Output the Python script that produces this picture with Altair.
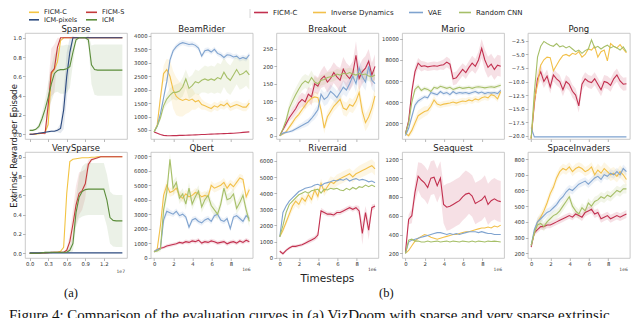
import altair as alt
import pandas as pd

# ---------------- x grids ----------------
RX = [0, 0.33, 0.66, 0.99, 1.32, 1.65, 1.98, 2.31, 2.64, 2.97, 3.3, 3.63, 3.96, 4.29, 4.62, 4.95,
      5.28, 5.61, 5.94, 6.27, 6.6, 6.93, 7.26, 7.59, 7.92, 8.25, 8.58, 8.91, 9.24, 9.57, 9.9]
LX = [0.0, 0.05, 0.1, 0.15, 0.2, 0.25, 0.3, 0.35, 0.4, 0.45, 0.5, 0.55, 0.6, 0.65, 0.7, 0.75,
      0.8, 0.85, 0.9, 0.95, 1.0, 1.05, 1.1, 1.15, 1.2, 1.25, 1.3, 1.35, 1.4, 1.45, 1.5]

LEFT_NAMES = ["FICM-C", "FICM-S", "ICM-pixels", "ICM"]
RIGHT_NAMES = ["FICM-C", "Inverse Dynamics", "VAE", "Random CNN"]
LEFT_COLORS = ["#f3c443", "#c43b3b", "#2c4a7f", "#5c8d3b"]
RIGHT_COLORS = ["#c2304f", "#f2c04a", "#7fa3cf", "#a6bf68"]

# ---------------- VizDoom Sparse ----------------
SP_FICMC = [0.0, 0.0, 0.0, 0.005, 0.01, 0.02, 0.1, 0.62, 0.67, 0.75, 0.97, 1.0, 1.0, 1.0, 1.0, 1.0,
            1.0, 1.0, 1.0, 1.0, 1.0, 1.0, 1.0, 1.0, 1.0, 1.0, 1.0, 1.0, 1.0, 1.0, 1.0]
SP_FICMS = [0.0, 0.0, 0.005, 0.01, 0.01, 0.01, 0.3, 0.64, 0.68, 0.9, 1.0, 1.0, 1.0, 1.0, 1.0, 1.0,
            1.0, 1.0, 1.0, 1.0, 1.0, 1.0, 1.0, 1.0, 1.0, 1.0, 1.0, 1.0, 1.0, 1.0, 1.0]
SP_FICMS_SD = [0, 0, 0, 0, 0, 0.02, 0.2, 0.25, 0.25, 0.1, 0, 0, 0, 0, 0, 0,
               0, 0, 0, 0, 0, 0, 0, 0, 0, 0, 0, 0, 0, 0, 0]
SP_PIX = [0.0, 0.0, 0.005, 0.01, 0.015, 0.02, 0.025, 0.03, 0.03, 0.04, 0.06, 0.25, 0.6, 0.85, 1.0, 1.0,
          1.0, 1.0, 1.0, 1.0, 1.0, 1.0, 1.0, 1.0, 1.0, 1.0, 1.0, 1.0, 1.0, 1.0, 1.0]
SP_PIX_SD = [0, 0, 0, 0, 0, 0.01, 0.01, 0.01, 0.01, 0.02, 0.05, 0.2, 0.25, 0.15, 0.02, 0,
             0, 0, 0, 0, 0, 0, 0, 0, 0, 0, 0, 0, 0, 0, 0]
SP_ICM = [0.04, 0.04, 0.05, 0.08, 0.16, 0.26, 0.38, 0.52, 0.63, 0.66, 0.67, 0.67, 0.68, 0.7, 0.85, 0.98,
          1.0, 1.0, 1.0, 0.98, 0.72, 0.67, 0.665, 0.665, 0.665, 0.665, 0.665, 0.665, 0.665, 0.665, 0.665]
SP_ICM_SD = [0.01, 0.01, 0.01, 0.03, 0.06, 0.1, 0.15, 0.18, 0.2, 0.22, 0.25, 0.25, 0.25, 0.22, 0.12, 0.03,
             0.0, 0.0, 0.0, 0.05, 0.2, 0.26, 0.265, 0.265, 0.265, 0.265, 0.265, 0.265, 0.265, 0.265, 0.265]

# ---------------- VizDoom VerySparse ----------------
VS_FICMC = [0.0, 0.0, 0.0, 0.0, 0.0, 0.0, 0.005, 0.005, 0.01, 0.01, 0.02, 0.06, 0.62, 0.95, 0.975, 0.98,
            0.985, 0.99, 0.99, 0.99, 0.995, 0.995, 1.0, 1.0, 1.0, 1.0, 1.0, 1.0, 1.0, 1.0, 1.0]
VS_FICMS = [0.0, 0.0, 0.0, 0.0, 0.005, 0.005, 0.005, 0.01, 0.01, 0.01, 0.01, 0.01, 0.03, 0.12, 0.3, 0.5,
            0.62, 0.65, 0.72, 0.92, 0.97, 0.98, 0.99, 1.0, 1.0, 1.0, 1.0, 1.0, 1.0, 1.0, 1.0]
VS_FICMS_SD = [0, 0, 0, 0, 0, 0, 0, 0, 0, 0, 0, 0, 0.02, 0.08, 0.15, 0.2,
               0.22, 0.2, 0.15, 0.05, 0.02, 0.01, 0.01, 0, 0, 0, 0, 0, 0, 0, 0]
VS_PIX = [0.003, 0.003, 0.003, 0.003, 0.003, 0.003, 0.003, 0.003, 0.003, 0.003, 0.003, 0.003, 0.003,
          0.003, 0.003, 0.003, 0.003, 0.003, 0.003, 0.003, 0.003, 0.003, 0.003, 0.003, 0.003, 0.003,
          0.003, 0.003, 0.003, 0.003, 0.003]
VS_ICM = [0.0, 0.0, 0.0, 0.0, 0.005, 0.01, 0.01, 0.01, 0.01, 0.01, 0.01, 0.01, 0.01, 0.03, 0.1, 0.42,
          0.58, 0.64, 0.66, 0.665, 0.665, 0.665, 0.665, 0.665, 0.665, 0.55, 0.37, 0.34, 0.335, 0.335, 0.335]
VS_ICM_SD = [0.005, 0.005, 0.005, 0.005, 0.005, 0.005, 0.005, 0.005, 0.005, 0.005, 0.005, 0.005, 0.005,
             0.03, 0.08, 0.15, 0.22, 0.26, 0.27, 0.27, 0.27, 0.27, 0.27, 0.27, 0.27, 0.27, 0.27, 0.27,
             0.27, 0.27, 0.27]

# ---------------- BeamRider ----------------
BR_FICM = [430, 380, 330, 300, 290, 285, 290, 290, 300, 300, 305, 310, 315, 320, 325, 330,
           335, 340, 345, 350, 355, 360, 365, 370, 375, 380, 390, 400, 410, 420, 430]
BR_INV = [430, 700, 1700, 2600, 2750, 2500, 2000, 1750, 1650, 1600, 1650, 1600, 1650, 1550, 1600, 1450,
          1400, 1350, 1300, 1400, 1350, 1450, 1400, 1500, 1350, 1400, 1450, 1400, 1350, 1350, 1500]
BR_VAE = [430, 650, 1100, 1700, 2300, 3100, 3450, 3600, 3700, 3750, 3720, 3680, 3700, 3650, 3550, 3250,
          3450, 3480, 3400, 3500, 3350, 3300, 3200, 3300, 3280, 3220, 3250, 3150, 3200, 3150, 3300]
BR_RND = [430, 650, 950, 1400, 1650, 1800, 1900, 1900, 1950, 2100, 2400, 2050, 2150, 2300, 2250, 2350,
          2400, 2350, 2400, 2350, 2450, 2400, 2650, 2450, 2350, 2550, 2750, 2550, 2600, 2700, 2550]
BR_INV_SD = [0, 50, 200, 300, 400, 600, 700, 700, 650, 600, 550, 450, 400, 300, 250, 200,
             150, 150, 150, 150, 150, 150, 150, 150, 150, 150, 150, 150, 150, 150, 150]
BR_VAE_SD = [0, 50, 100, 100, 150, 150, 100, 100, 100, 100, 100, 100, 100, 100, 100, 100,
             100, 100, 100, 100, 100, 100, 100, 100, 100, 100, 100, 100, 100, 100, 100]
BR_RND_SD = [0, 50, 100, 150, 200, 250, 250, 300, 300, 350, 350, 400, 400, 450, 450, 450,
             500, 500, 500, 500, 550, 550, 550, 550, 550, 550, 550, 550, 550, 550, 550]

# ---------------- Breakout ----------------
BO_FICM = [0, 18, 35, 52, 65, 78, 95, 105, 98, 120, 112, 150, 143, 163, 172, 155,
           165, 182, 170, 160, 192, 175, 165, 180, 232, 165, 185, 195, 215, 175, 200]
BO_INV = [0, 5, 12, 25, 38, 52, 62, 75, 88, 100, 108, 112, 110, 75, 22, 55,
          70, 85, 95, 105, 80, 75, 90, 85, 100, 125, 70, 38, 55, 80, 115]
BO_VAE = [0, 8, 10, 12, 15, 20, 25, 30, 35, 40, 50, 62, 75, 120, 105, 112,
          128, 120, 110, 125, 140, 132, 150, 172, 150, 195, 170, 155, 200, 160, 150]
BO_RND = [0, 20, 45, 80, 100, 118, 135, 150, 158, 152, 168, 155, 150, 160, 162, 168,
          170, 172, 178, 175, 180, 178, 182, 178, 175, 180, 176, 178, 172, 170, 175]
BO_FICM_SD = [0, 5, 10, 10, 15, 15, 20, 20, 20, 20, 25, 25, 25, 25, 30, 30,
              30, 30, 30, 35, 35, 35, 35, 35, 40, 35, 35, 35, 35, 35, 35]
BO_INV_SD = [0, 3, 5, 8, 10, 10, 10, 12, 12, 15, 15, 15, 15, 15, 15, 15,
             15, 15, 15, 15, 20, 20, 20, 20, 20, 25, 25, 25, 25, 25, 25]
BO_VAE_SD = [0, 3, 3, 3, 5, 5, 8, 8, 10, 10, 10, 15, 15, 15, 20, 20,
             20, 20, 20, 20, 20, 20, 20, 20, 25, 25, 25, 25, 25, 25, 25]
BO_RND_SD = [0, 5, 10, 15, 20, 20, 20, 20, 20, 20, 20, 15, 15, 15, 15, 15,
             15, 15, 15, 15, 15, 15, 15, 15, 15, 15, 15, 15, 15, 15, 15]

# ---------------- Mario ----------------
MA_FICM = [1000, 2200, 5000, 6900, 7700, 7400, 7450, 7350, 7400, 7450, 7400, 7500, 7550, 7800, 7600, 6200,
           6300, 6700, 7100, 6800, 7300, 7700, 7400, 8000, 9100, 8000, 7300, 7600, 7100, 7500, 7400]
MA_INV = [1000, 800, 1300, 2000, 2700, 2900, 3100, 3200, 3600, 4200, 3800, 3700, 3800, 3850, 3900, 4000,
          3900, 4000, 4100, 4050, 4200, 4100, 4300, 4200, 4400, 4500, 4400, 4700, 4600, 4300, 5000]
MA_VAE = [800, 1500, 2600, 3700, 4100, 4300, 4500, 4400, 4900, 4800, 4700, 5000, 4800, 4900, 4700, 5000,
          4800, 4900, 4850, 4900, 4800, 4900, 5000, 4850, 4950, 4800, 4900, 4850, 4900, 4800, 5100]
MA_RND = [1000, 2000, 4000, 5200, 5500, 5100, 5300, 5200, 5000, 5400, 5300, 5500, 5400, 5300, 5400, 5200,
          5300, 5400, 5300, 5350, 5400, 5300, 5400, 5450, 5400, 5350, 5400, 5450, 5400, 5500, 5600]
MA_FICM_SD = [100, 300, 600, 500, 500, 500, 400, 400, 400, 400, 400, 400, 500, 500, 500, 600,
              600, 600, 600, 600, 600, 700, 700, 800, 900, 1000, 1000, 1000, 1000, 1000, 1000]
MA_INV_SD = [100, 200, 400, 500, 500, 500, 500, 400, 400, 400, 300, 300, 300, 300, 300, 300,
             300, 300, 300, 300, 300, 300, 300, 300, 300, 300, 300, 300, 300, 300, 300]
MA_VAE_SD = [100, 200, 300, 300, 250, 250, 200, 200, 200, 200, 200, 200, 200, 200, 200, 200,
             200, 200, 200, 200, 200, 200, 200, 200, 200, 200, 200, 200, 200, 200, 200]
MA_RND_SD = [100, 200, 300, 300, 250, 200, 200, 200, 200, 200, 200, 200, 200, 200, 200, 200,
             200, 200, 200, 200, 200, 200, 200, 200, 200, 200, 200, 200, 200, 200, 200]

# ---------------- Pong ----------------
PO_FICM = [-20.5, -14, -9.5, -8.2, -10, -9, -11, -8.8, -9.5, -10, -11.5, -10, -10.5, -11.8, -12.5, -14.5,
           -10.5, -9.5, -10, -10.2, -9.5, -10.5, -11.5, -10, -10.2, -10.7, -9.5, -8.8, -9.9, -10.5, -10.4]
PO_INV = [-20.5, -13.5, -10.5, -7.0, -6.0, -5.5, -5.6, -8.0, -7.0, -6.0, -5.2, -5.0, -5.3, -4.8, -5.0, -4.5,
          -5.5, -5.0, -4.0, -4.2, -3.5, -5.5, -4.5, -4.2, -6.2, -3.0, -3.5, -3.8, -3.2, -4.0, -4.7]
PO_VAE = [-18.5, -20.2, -20.2, -20.2, -20.2, -20.2, -20.2, -20.2, -20.2, -20.2, -20.2, -20.2, -20.2, -20.2,
          -20.2, -20.2, -20.2, -20.2, -20.2, -20.2, -20.2, -20.2, -20.2, -20.2, -20.2, -20.2, -20.2, -20.2,
          -20.2, -20.2, -20.2]
PO_RND = [-20.5, -12, -5.5, -3.5, -2.6, -3.0, -3.3, -3.5, -3.0, -3.6, -3.4, -3.8, -3.5, -4.0, -4.5, -4.2,
          -4.8, -4.3, -4.0, -2.3, -3.8, -3.5, -4.0, -3.6, -3.3, -3.8, -3.5, -3.8, -4.2, -3.6, -4.5]
PO_FICM_SD = [0.2, 1.5, 1.5, 1.5, 1.2, 1.2, 1.2, 1.2, 1.2, 1.2, 1.2, 1.2, 1.2, 1.2, 1.2, 1.2,
              1.2, 1.2, 1.2, 1.2, 1.2, 1.2, 1.2, 1.2, 1.2, 1.2, 1.2, 1.2, 1.2, 1.2, 1.2]

# ---------------- Qbert ----------------
QB_FICM = [400, 550, 650, 700, 800, 850, 900, 950, 1050, 1000, 1100, 1050, 1150, 1100, 1200, 1000,
           1100, 1050, 1150, 1100, 1000, 1050, 1100, 950, 1050, 1100, 1000, 1150, 1050, 1200, 1100]
QB_INV = [400, 600, 2200, 4300, 5000, 4500, 4600, 4800, 4300, 4100, 4400, 4200, 4300, 4500, 4400, 4200,
          4300, 4200, 5000, 4800, 4900, 5000, 5200, 4800, 5100, 4900, 5200, 5500, 5400, 4200, 4700]
QB_VAE = [400, 550, 600, 2600, 3200, 3100, 3000, 3200, 2900, 3000, 2800, 2100, 2600, 2700, 2500, 2400,
          2600, 2700, 2500, 2900, 3000, 2600, 2500, 2700, 2000, 2800, 2900, 2700, 2500, 2900, 2700]
QB_RND = [400, 450, 600, 3300, 4500, 6800, 4800, 5200, 4100, 4400, 3700, 4800, 3700, 4200, 4600, 3500,
          4000, 4300, 3600, 3300, 3000, 3700, 4800, 4000, 4100, 4400, 3400, 3800, 4300, 3300, 2500]
QB_FICM_SD = [50, 80, 100, 100, 120, 120, 120, 120, 120, 120, 150, 150, 150, 150, 150, 150,
              150, 150, 150, 150, 150, 150, 150, 150, 150, 150, 150, 150, 150, 150, 150]
QB_INV_SD = [50, 100, 300, 400, 400, 300, 300, 300, 300, 300, 300, 300, 300, 300, 300, 300,
             300, 300, 300, 300, 300, 300, 300, 300, 300, 300, 300, 300, 300, 300, 300]
QB_VAE_SD = [50, 50, 100, 300, 300, 200, 200, 200, 200, 200, 200, 200, 200, 200, 200, 200,
             200, 200, 200, 200, 200, 200, 200, 200, 200, 200, 200, 200, 200, 200, 200]
QB_RND_SD = [50, 100, 200, 500, 500, 450, 500, 400, 400, 400, 400, 400, 400, 400, 400, 400,
             400, 400, 400, 400, 400, 400, 400, 400, 400, 400, 400, 400, 400, 400, 400]

# ---------------- Riverraid ----------------
RR_FICM = [400, 250, 450, 600, 700, 700, 750, 800, 900, 1000, 1100, 1200, 1400, 2900, 2800, 2700,
           2700, 2650, 2800, 2800, 2900, 3000, 3100, 3000, 3100, 2900, 1500, 2800, 1700, 3100, 3200]
RR_INV = [1300, 1700, 2200, 2700, 3200, 3500, 3300, 3700, 3500, 3900, 3600, 4200, 3800, 4600, 4100, 4400,
          4700, 4600, 4800, 4900, 5000, 5100, 5200, 5000, 5200, 5300, 5400, 5500, 5600, 5700, 5500]
RR_VAE = [1300, 2800, 3200, 3500, 3700, 3900, 4100, 4200, 4300, 4350, 4400, 4500, 4550, 4450, 4600, 4650,
          4700, 4800, 4750, 4850, 4800, 4900, 4750, 4850, 4900, 4800, 4850, 4800, 4700, 4750, 4650]
RR_RND = [1300, 2000, 2800, 3300, 3500, 3700, 3900, 4000, 4100, 4000, 4150, 4200, 4250, 4000, 4250, 4200,
          4300, 4250, 4300, 4200, 4150, 4300, 4200, 4350, 4250, 4400, 4350, 4500, 4400, 4500, 4400]
RR_FICM_SD = [100, 100, 100, 100, 100, 100, 100, 100, 100, 150, 150, 150, 200, 200, 150, 150,
              150, 150, 150, 150, 150, 150, 150, 150, 150, 300, 700, 400, 600, 200, 150]
RR_INV_SD = [100, 150, 200, 250, 300, 300, 300, 300, 300, 300, 300, 300, 300, 300, 300, 300,
             350, 350, 350, 350, 350, 350, 350, 350, 350, 400, 400, 400, 400, 400, 400]

# ---------------- Seaquest ----------------
SQ_FICM = [210, 560, 600, 850, 1020, 980, 950, 900, 1000, 1010, 920, 1000, 720, 690, 700, 720,
           740, 760, 800, 830, 840, 810, 730, 750, 770, 810, 720, 760, 780, 760, 750]
SQ_INV = [200, 230, 280, 330, 360, 380, 400, 390, 370, 360, 350, 360, 370, 380, 390, 400,
          400, 410, 420, 430, 430, 440, 450, 460, 470, 470, 480, 470, 490, 480, 500]
SQ_VAE = [200, 320, 340, 350, 360, 370, 380, 390, 400, 410, 420, 420, 410, 400, 410, 400,
          410, 400, 410, 420, 430, 430, 430, 420, 430, 420, 410, 410, 400, 400, 400]
SQ_RND = [200, 340, 350, 330, 330, 320, 320, 330, 320, 325, 330, 320, 325, 330, 320, 330,
          325, 320, 330, 325, 320, 330, 320, 330, 325, 320, 330, 325, 330, 325, 320]
SQ_FICM_SD = [0, 50, 80, 100, 150, 180, 180, 180, 180, 180, 180, 180, 200, 250, 250, 250,
              250, 250, 250, 250, 220, 220, 220, 220, 220, 220, 220, 220, 220, 220, 220]

# ---------------- SpaceInvaders ----------------
SI_FICM = [240, 330, 350, 370, 370, 380, 380, 390, 400, 410, 420, 430, 440, 430, 450, 440,
           430, 460, 470, 480, 450, 460, 420, 430, 440, 420, 430, 440, 430, 440, 450]
SI_INV = [250, 330, 400, 430, 470, 520, 580, 620, 680, 720, 740, 730, 750, 720, 740, 750,
          740, 720, 730, 750, 700, 730, 710, 740, 720, 700, 710, 690, 720, 700, 670]
SI_VAE = [250, 350, 400, 420, 440, 460, 470, 490, 510, 540, 560, 590, 610, 600, 620, 640,
          650, 660, 640, 660, 680, 690, 670, 700, 690, 710, 700, 720, 700, 740, 720]
SI_RND = [250, 330, 380, 390, 370, 400, 420, 440, 450, 470, 500, 530, 560, 500, 470, 450,
          490, 470, 520, 500, 530, 540, 560, 550, 570, 560, 580, 600, 590, 610, 610]
SI_FICM_SD = [0, 15, 20, 20, 20, 20, 20, 20, 20, 20, 20, 20, 20, 20, 20, 20,
              25, 25, 25, 25, 25, 25, 25, 25, 25, 25, 25, 25, 25, 25, 25]
SI_INV_SD = [0, 20, 30, 30, 30, 30, 30, 30, 30, 30, 30, 30, 30, 30, 30, 30,
             30, 30, 30, 30, 40, 40, 40, 40, 40, 40, 40, 40, 40, 40, 40]
SI_VAE_SD = [0, 20, 25, 25, 25, 25, 25, 25, 25, 25, 25, 25, 25, 25, 25, 25,
             25, 25, 25, 25, 25, 25, 25, 25, 25, 25, 25, 25, 25, 25, 25]
SI_RND_SD = [0, 20, 30, 30, 30, 30, 30, 30, 30, 30, 30, 30, 30, 30, 30, 30,
             30, 30, 30, 30, 30, 30, 30, 30, 30, 30, 30, 30, 30, 30, 30]

# ---------------- axes ----------------
LEFT_XTICKS = [0.0, 0.3, 0.6, 0.9, 1.2]
RIGHT_XTICKS = [0, 2, 4, 6, 8]
UNIT_TICKS = [0.0, 0.2, 0.4, 0.6, 0.8, 1.0]
BR_TICKS = [500, 1000, 1500, 2000, 2500, 3000, 3500, 4000]
BO_TICKS = [0, 50, 100, 150, 200, 250]
MA_TICKS = [2000, 4000, 6000, 8000, 10000]
PO_TICKS = [-20.0, -17.5, -15.0, -12.5, -10.0, -7.5, -5.0, -2.5]
QB_TICKS = [0, 1000, 2000, 3000, 4000, 5000, 6000, 7000]
RR_TICKS = [0, 1000, 2000, 3000, 4000, 5000, 6000]
SQ_TICKS = [200, 400, 600, 800, 1000, 1200]
SI_TICKS = [200, 300, 400, 500, 600, 700, 800]

W, H = 102, 106
FONT = "DejaVu Sans"
ONE = pd.DataFrame({"k": [0]})


def frames(x, names, vals, sds):
    lines, bands = [], []
    for n, v, sd in zip(names, vals, sds):
        for i in range(len(x)):
            lines.append({"x": x[i], "y": v[i], "s": n})
            if sd is not None:
                bands.append({"x": x[i], "lo": v[i] - sd[i], "hi": v[i] + sd[i], "s": n})
    return pd.DataFrame(lines), pd.DataFrame(bands)


def txt(text, x, y, size=7, align="left", angle=0, font=FONT, color="#222", baseline="middle"):
    return alt.Chart(ONE).mark_text(text=text, fontSize=size, align=align, baseline=baseline,
                                    angle=angle, font=font, color=color).encode(
        x=alt.value(x), y=alt.value(y))


def seg(x1, x2, y, color, width=1.6, opacity=1.0):
    return alt.Chart(ONE).mark_rule(color=color, strokeWidth=width, opacity=opacity).encode(
        x=alt.value(x1), x2=alt.value(x2), y=alt.value(y))


def vseg(x, y1, y2, color, width=0.8):
    return alt.Chart(ONE).mark_rule(color=color, strokeWidth=width).encode(
        x=alt.value(x), y=alt.value(y1), y2=alt.value(y2))


def panel(title, x, names, colors, vals, sds, xdom, xticks, xfmt, ydom, yticks, yfmt,
          bottom, extras, band_opacity=0.15):
    ldf, bdf = frames(x, names, vals, sds)
    xs = alt.Scale(domain=xdom, nice=False, zero=False)
    ys = alt.Scale(domain=ydom, nice=False, zero=False)
    common = dict(title=None, grid=False, domain=False, ticks=True, tickSize=2.5,
                  tickColor="#8a8a8a", tickWidth=0.6, labelFontSize=5.3, labelColor="#333",
                  labelFont=FONT, labelPadding=1.2, labelOverlap=False, labelFlush=False)
    xax = alt.Axis(values=xticks, format=xfmt, labels=bottom, **common)
    yax = alt.Axis(values=yticks, format=yfmt, **common)
    col = alt.Color("s:N", scale=alt.Scale(domain=names, range=colors), legend=None)
    layers = []
    if len(bdf):
        layers.append(alt.Chart(bdf).mark_area(opacity=band_opacity, clip=True).encode(
            x=alt.X("x:Q", scale=xs, axis=xax),
            y=alt.Y("lo:Q", scale=ys, axis=yax, stack=None),
            y2="hi:Q", color=col, detail="s:N"))
    layers.append(alt.Chart(ldf).mark_line(strokeWidth=1.1, clip=True).encode(
        x=alt.X("x:Q", scale=xs, axis=xax),
        y=alt.Y("y:Q", scale=ys, axis=yax),
        color=col))
    # panel title drawn as a text mark just above the frame
    layers.append(txt(title, W / 2, -1.5, size=8.5, align="center", baseline="alphabetic"))
    layers += extras
    return alt.layer(*layers).properties(width=W, height=H)


LXD = [-0.075, 1.575]
RXD = [-0.35, 10.25]

# ----- annotation layers -----
sparse_extra = [
    seg(-16, -15, -24, "white", width=0.5, opacity=0.0),   # layout anchor (invisible)
    seg(4, 14, -20.7, LEFT_COLORS[0]), txt("FICM-C", 19, -20.7, size=6.5),
    seg(61, 72, -20.7, LEFT_COLORS[1]), txt("FICM-S", 77, -20.7, size=6.5),
    seg(4, 14, -13.2, LEFT_COLORS[2]), txt("ICM-pixels", 19, -13.2, size=6.5),
    seg(61, 72, -13.2, LEFT_COLORS[3]), txt("ICM", 77, -13.2, size=6.5),
    txt("Extrinsic Reward per Episode", -11, 113, size=8.5, align="center", angle=270),
]
beam_extra = [
    vseg(99.3, -24, -15, "#cccccc"),
    seg(103.3, 117.3, -20.5, RIGHT_COLORS[0]), txt("FICM-C", 122.3, -20.5),
    seg(162.3, 175.3, -20.5, RIGHT_COLORS[1]), txt("Inverse Dynamics", 180.3, -20.5),
    seg(258.3, 272.3, -20.5, RIGHT_COLORS[2]), txt("VAE", 277.3, -20.5),
    seg(308.3, 320.3, -20.5, RIGHT_COLORS[3]), txt("Random CNN", 325.3, -20.5),
]
vs_extra = [
    txt("1e7", W - 2, H + 14, size=4.5, align="right", color="#444"),
    txt("(a)", 46, 141, size=12.5, align="center", font="Liberation Serif", color="#111"),
    txt("Figure 4: Comparison of the evaluation curves in (a) VizDoom with sparse and very sparse extrinsic",
        -16, 168, size=15, align="left", font="Liberation Serif", color="#111",
        baseline="alphabetic"),
]


def e6():
    return txt("1e6", W - 2, H + 12, size=4.5, align="right", color="#444")


rr_extra = [
    e6(),
    txt("Timesteps", 51, 127, size=10.5, align="center"),
    txt("(b)", 110, 141, size=12.5, align="center", font="Liberation Serif", color="#111"),
]

sp = panel("Sparse", LX, LEFT_NAMES, LEFT_COLORS, [SP_FICMC, SP_FICMS, SP_PIX, SP_ICM],
           [None, SP_FICMS_SD, SP_PIX_SD, SP_ICM_SD], LXD, LEFT_XTICKS, ".1f",
           [-0.05, 1.05], UNIT_TICKS, ".1f", False, sparse_extra, band_opacity=0.12)
vs = panel("VerySparse", LX, LEFT_NAMES, LEFT_COLORS, [VS_FICMC, VS_FICMS, VS_PIX, VS_ICM],
           [None, VS_FICMS_SD, None, VS_ICM_SD], LXD, LEFT_XTICKS, ".1f",
           [-0.05, 1.05], UNIT_TICKS, ".1f", True, vs_extra, band_opacity=0.12)
br = panel("BeamRider", RX, RIGHT_NAMES, RIGHT_COLORS, [BR_FICM, BR_INV, BR_VAE, BR_RND],
           [None, BR_INV_SD, BR_VAE_SD, BR_RND_SD], RXD, RIGHT_XTICKS, "d",
           [165, 4110], BR_TICKS, "d", False, beam_extra)
bo = panel("Breakout", RX, RIGHT_NAMES, RIGHT_COLORS, [BO_FICM, BO_INV, BO_VAE, BO_RND],
           [BO_FICM_SD, BO_INV_SD, BO_VAE_SD, BO_RND_SD], RXD, RIGHT_XTICKS, "d",
           [-9, 296], BO_TICKS, "d", False, [])
ma = panel("Mario", RX, RIGHT_NAMES, RIGHT_COLORS, [MA_FICM, MA_INV, MA_VAE, MA_RND],
           [MA_FICM_SD, MA_INV_SD, MA_VAE_SD, MA_RND_SD], RXD, RIGHT_XTICKS, "d",
           [480, 10570], MA_TICKS, "d", False, [])
po = panel("Pong", RX, RIGHT_NAMES, RIGHT_COLORS, [PO_FICM, PO_INV, PO_VAE, PO_RND],
           [PO_FICM_SD, None, None, None], RXD, RIGHT_XTICKS, "d",
           [-20.6, -1.05], PO_TICKS, ".1f", False, [])
qb = panel("Qbert", RX, RIGHT_NAMES, RIGHT_COLORS, [QB_FICM, QB_INV, QB_VAE, QB_RND],
           [QB_FICM_SD, QB_INV_SD, QB_VAE_SD, QB_RND_SD], RXD, RIGHT_XTICKS, "d",
           [-30, 7300], QB_TICKS, "d", True, [e6()])
rr = panel("Riverraid", RX, RIGHT_NAMES, RIGHT_COLORS, [RR_FICM, RR_INV, RR_VAE, RR_RND],
           [RR_FICM_SD, RR_INV_SD, None, None], RXD, RIGHT_XTICKS, "d",
           [-20, 6550], RR_TICKS, "d", True, rr_extra)
sq = panel("Seaquest", RX, RIGHT_NAMES, RIGHT_COLORS, [SQ_FICM, SQ_INV, SQ_VAE, SQ_RND],
           [SQ_FICM_SD, None, None, None], RXD, RIGHT_XTICKS, "d",
           [150, 1278], SQ_TICKS, "d", True, [e6()])
si = panel("SpaceInvaders", RX, RIGHT_NAMES, RIGHT_COLORS, [SI_FICM, SI_INV, SI_VAE, SI_RND],
           [SI_FICM_SD, SI_INV_SD, SI_VAE_SD, SI_RND_SD], RXD, RIGHT_XTICKS, "d",
           [170, 845], SI_TICKS, "d", True, [e6()])

chart = alt.concat(
    sp, br, bo, ma, po, vs, qb, rr, sq, si,
    columns=5, spacing=alt.RowColnumber(row=13, column=23.7), bounds="flush"
).resolve_scale(color="independent").properties(padding=0).configure_view(
    stroke="#bdbdbd", strokeWidth=0.8)

chart.save("out.html", embed_options={"renderer": "svg", "actions": False})
